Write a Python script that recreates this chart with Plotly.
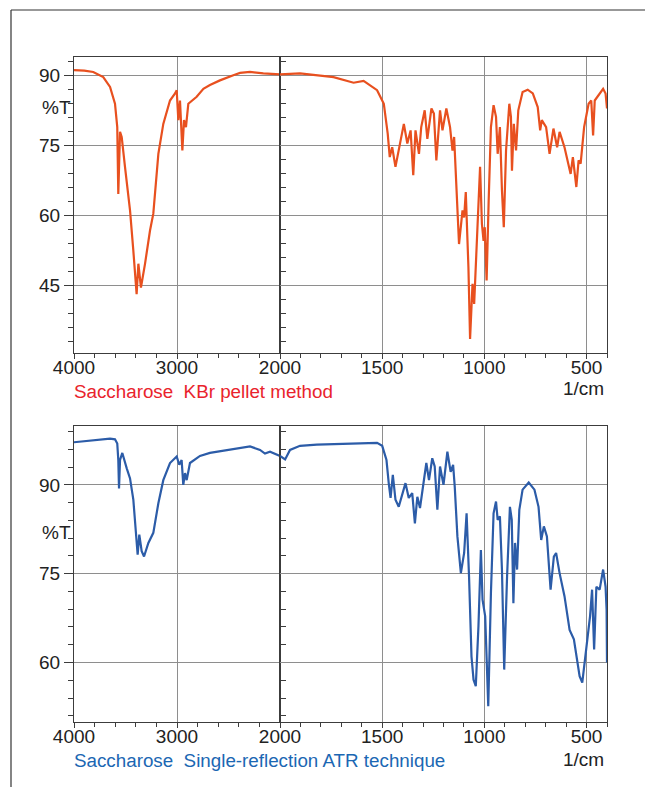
import plotly.graph_objects as go

# ---------------- data ----------------
kbr_wn = [4000, 3900, 3813, 3716, 3650, 3602, 3580, 3570, 3553, 3537, 3505, 3456, 3424,
          3392, 3375, 3350, 3311, 3262, 3230, 3181, 3133, 3068, 3019, 3003, 2987, 2971,
          2948, 2932, 2913, 2890, 2809, 2744, 2680, 2583, 2453, 2388, 2291, 2162, 2000,
          1902, 1738, 1640, 1591, 1525, 1492, 1473, 1463, 1451, 1435, 1419, 1394, 1377,
          1361, 1348, 1337, 1320, 1309, 1292, 1279, 1259, 1247, 1235, 1217, 1205, 1186,
          1168, 1156, 1148, 1132, 1124, 1107, 1099, 1091, 1078, 1070, 1058, 1050, 1034,
          1021, 1012, 1004, 998, 989, 979, 968, 955, 943, 935, 924, 914, 905, 894, 878,
          870, 865, 856, 845, 834, 813, 788, 763, 739, 727, 719, 698, 681, 662, 644, 632,
          608, 578, 567, 550, 539, 529, 512, 490, 477, 468, 460, 436, 419, 407, 400]
kbr_t = [91.1, 91.0, 90.7, 89.6, 87.5, 83.9, 78.9, 64.6, 77.9, 76.8, 70.4, 61.1, 52.5,
         43.2, 49.7, 44.6, 49.6, 56.8, 60.4, 73.2, 79.6, 84.6, 86.1, 86.8, 80.4, 84.6,
         73.9, 80.4, 78.9, 83.9, 85.4, 87.1, 87.9, 88.9, 90.0, 90.5, 90.7, 90.4, 90.2,
         90.4, 89.6, 88.4, 88.8, 86.8, 83.9, 77.5, 72.5, 74.6, 70.4, 73.9, 79.6, 75.4,
         78.2, 68.6, 78.2, 73.2, 78.9, 82.5, 76.4, 82.9, 81.8, 71.8, 82.5, 78.2, 82.9,
         78.9, 73.9, 76.8, 60.4, 53.9, 61.1, 59.6, 65.0, 48.9, 33.6, 45.4, 41.1, 56.1,
         70.4, 58.2, 54.6, 57.5, 46.1, 63.2, 78.9, 83.6, 81.1, 73.2, 78.9, 65.4, 57.5, 73.9, 83.9,
         81.1, 69.6, 79.6, 73.9, 82.5, 86.4, 86.9, 86.1, 83.2, 78.2, 80.4, 78.9, 73.2, 78.6, 74.6, 77.9,
         74.6, 68.9, 72.5, 66.1, 71.8, 71.1, 78.9, 83.9, 84.6, 77.1, 84.6, 86.1, 87.1, 86.1, 82.9]

atr_wn = [4000, 3780, 3650, 3602, 3580, 3570, 3563, 3553, 3531, 3488, 3456, 3424, 3398,
          3382, 3366, 3343, 3320, 3278, 3230, 3181, 3133, 3068, 3003, 2978, 2955, 2939,
          2922, 2906, 2874, 2777, 2680, 2550, 2420, 2291, 2194, 2146, 2097, 2032, 2000,
          1975, 1951, 1902, 1820, 1705, 1574, 1525, 1500, 1479, 1468, 1459, 1448, 1435,
          1419, 1386, 1370, 1353, 1340, 1328, 1315, 1299, 1284, 1271, 1255, 1243, 1230,
          1217, 1200, 1181, 1165, 1153, 1145, 1132, 1115, 1099, 1087, 1075, 1063, 1053,
          1042, 1029, 1017, 1009, 996, 981, 968, 955, 943, 935, 924, 914, 903, 889, 875,
          866, 858, 850, 840, 829, 813, 783, 755, 735, 722, 709, 694, 676, 660, 649, 632,
          608, 583, 562, 545, 534, 521, 510, 496, 483, 473, 463, 452, 436, 419, 407, 402, 400]
atr_t = [97.2, 97.5, 97.8, 97.7, 97.0, 94.2, 89.4, 94.2, 95.4, 92.8, 91.1, 87.5, 81.3,
         78.2, 81.6, 78.8, 77.9, 80.2, 81.9, 86.9, 90.8, 93.7, 94.8, 93.4, 94.2, 90.0,
         92.0, 90.8, 93.7, 94.9, 95.4, 95.8, 96.2, 96.5, 95.9, 95.3, 95.6, 95.1, 94.9,
         94.3, 95.9, 96.6, 96.8, 96.9, 97.1, 97.1, 96.6, 94.2, 90.3, 87.8, 91.7, 87.5,
         86.3, 90.3, 87.8, 88.6, 83.5, 88.0, 86.1, 90.3, 93.7, 90.8, 94.5, 93.1, 85.8,
         93.1, 90.0, 95.6, 92.2, 93.4, 89.7, 81.3, 75.1, 78.5, 85.2, 74.5, 61.0, 57.1,
         56.0, 66.1, 79.0, 70.6, 67.8, 52.6, 71.7, 85.2, 87.2, 84.1, 84.7, 75.7, 58.8, 74.5, 86.3,
         84.1, 70.0, 80.2, 75.7, 85.8, 89.2, 90.4, 89.2, 86.3, 80.7, 83.0, 81.3, 72.3, 77.9, 78.5, 75.1,
         71.2, 65.5, 63.9, 59.9, 57.7, 56.6, 59.9, 64.4, 67.8, 72.3, 62.2, 72.8, 72.3, 75.7, 72.8, 68.9, 60.0]

hi_ticks = [4000, 3000]
lo_ticks = [2000, 1500, 1000, 500]
y_ticks = [45, 60, 75, 90]

W, H = 645, 787
FONT = "Liberation Sans, Arial, sans-serif"
FRAME = "#3c3c3c"
GRID = "#8e8e8e"
ORANGE = "#E8501F"
BLUE = "#2C5CA8"


def split(wn, t, upper):
    if upper:
        pairs = [(a, b) for a, b in zip(wn, t) if a >= 2000]
    else:
        pairs = [(a, b) for a, b in zip(wn, t) if a <= 2000]
    return [p[0] for p in pairs], [p[1] for p in pairs]


fig = go.Figure()
for (wn, t, col, xa, xb, ya) in [(kbr_wn, kbr_t, ORANGE, "x", "x2", "y"),
                                 (atr_wn, atr_t, BLUE, "x3", "x4", "y2")]:
    for upper, xr in [(True, xa), (False, xb)]:
        xs, ys = split(wn, t, upper)
        fig.add_trace(go.Scatter(x=xs, y=ys, mode="lines", xaxis=xr, yaxis=ya,
                                 line=dict(color=col, width=2.2), hoverinfo="skip",
                                 showlegend=False))


def xax(rng, dom, tv, mdt, anchor):
    return dict(range=rng, domain=dom, anchor=anchor, tickmode="array", tickvals=tv,
                ticktext=[str(v) for v in tv], ticks="outside", ticklen=5, tickwidth=1.2,
                tickcolor=FRAME, showline=True, linecolor=FRAME, linewidth=1.2, mirror=True,
                showgrid=True, gridcolor=GRID, gridwidth=1.2, zeroline=False, automargin=False,
                ticklabelstandoff=-8,
                tickfont=dict(family=FONT, size=19, color="#222"),
                minor=dict(ticks="outside", ticklen=4, tickwidth=1, tickcolor=FRAME,
                           dtick=mdt, tick0=0, showgrid=False))


def yax(rng, dom, anchor):
    return dict(range=rng, domain=dom, anchor=anchor, tickmode="array", tickvals=y_ticks,
                ticktext=[str(v) for v in y_ticks], ticks="outside", ticklen=9, tickwidth=1.2,
                tickcolor=FRAME, showline=True, linecolor=FRAME, linewidth=1.2, mirror="all",
                showgrid=True, gridcolor=GRID, gridwidth=1.2, zeroline=False, automargin=False,
                tickfont=dict(family=FONT, size=19, color="#222"),
                minor=dict(ticks="outside", ticklen=5, tickwidth=1, tickcolor=FRAME,
                           dtick=3, tick0=0, showgrid=False))


xL, xM, xR = 74 / W, 280 / W, 607 / W
top_dom = [1 - 353 / H, 1 - 57 / H]
bot_dom = [1 - 721.7 / H, 1 - 425.7 / H]

fig.update_layout(
    width=W, height=H, autosize=False,
    margin=dict(l=0, r=0, t=0, b=0, autoexpand=False),
    paper_bgcolor="white", plot_bgcolor="white", showlegend=False,
    xaxis=xax([4000, 2000], [xL, xM], hi_ticks, 200, "y"),
    xaxis2=xax([2000, 400], [xM, xR], lo_ticks, 100, "y"),
    xaxis3=xax([4000, 2000], [xL, xM], hi_ticks, 200, "y2"),
    xaxis4=xax([2000, 400], [xM, xR], lo_ticks, 100, "y2"),
    yaxis=yax([30.6, 93.9], top_dom, "x"),
    yaxis2=yax([50, 100], bot_dom, "x3"),
)

ann_font = dict(family=FONT, size=19, color="#222")
annotations = [
    dict(text="%T", x=72 / W, y=1 - 108 / H, xanchor="right", yanchor="middle", font=ann_font),
    dict(text="%T", x=72 / W, y=1 - 532 / H, xanchor="right", yanchor="middle", font=ann_font),
    dict(text="1/cm", x=605 / W, y=1 - 389 / H, xanchor="right", yanchor="middle", font=ann_font),
    dict(text="1/cm", x=605 / W, y=1 - 759 / H, xanchor="right", yanchor="middle", font=ann_font),
    dict(text="Saccharose  KBr pellet method", x=73 / W, y=1 - 391 / H, xanchor="left",
         yanchor="middle", font=dict(family=FONT, size=18.8, color="#E9232C")),
    dict(text="Saccharose  Single-reflection ATR technique", x=73 / W, y=1 - 760.5 / H,
         xanchor="left", yanchor="middle", font=dict(family=FONT, size=18.8, color="#1B67B3")),
]
for a in annotations:
    a.update(xref="paper", yref="paper", showarrow=False, borderpad=0)
fig.update_layout(annotations=annotations)

# outer frame (top and left edges)
fig.add_shape(type="line", xref="paper", yref="paper", x0=11 / W, x1=1, y0=1 - 10 / H,
              y1=1 - 10 / H, line=dict(color="#333", width=1.2))
fig.add_shape(type="line", xref="paper", yref="paper", x0=11 / W, x1=11 / W, y0=0,
              y1=1 - 10 / H, line=dict(color="#333", width=1.2))

fig.write_html("out.html")
